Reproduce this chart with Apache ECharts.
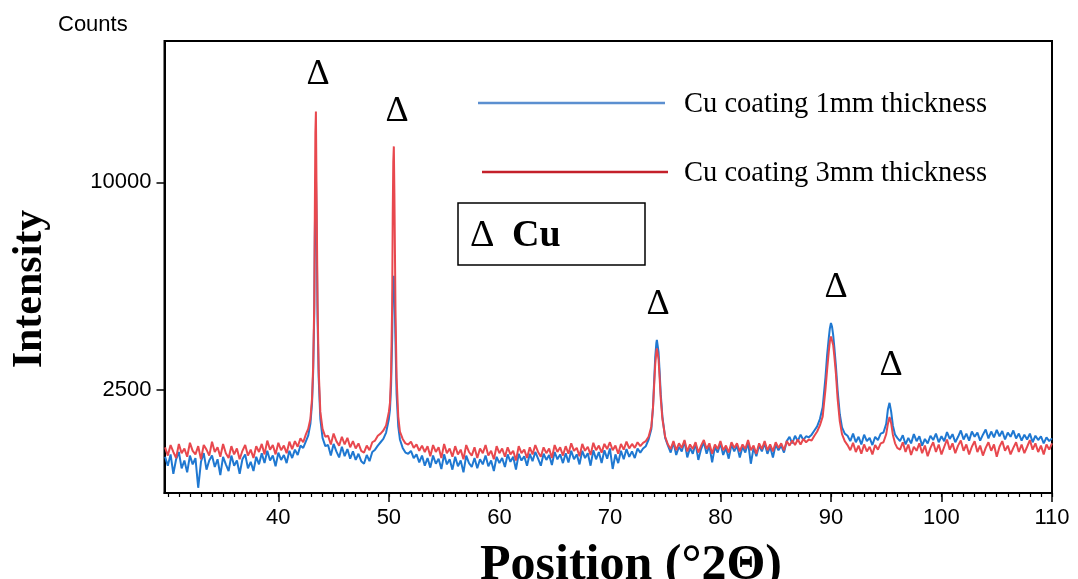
<!DOCTYPE html>
<html>
<head>
<meta charset="utf-8">
<script src="https://cdn.jsdelivr.net/npm/echarts@6/dist/echarts.min.js"></script>
<style>html,body{margin:0;padding:0;background:#fff}#c{width:1078px;height:579px}</style>
</head>
<body>
<div id="c"></div>
<script>
// 2θ positions (degrees) shared by both patterns
const twoTheta = [
 29.75,30,30.25,30.5,30.75,31,31.25,31.5,31.75,32,32.25,32.5,32.75,33,33.25,33.5,33.75,34,34.25,34.5,34.75,35,35.25,35.5,35.75,36,36.25,36.5,36.75,37,37.25,37.5,37.75,38,38.25,38.5,38.75,39,39.25,39.5,39.75,40,40.25,40.5,40.75,41,41.25,41.5,41.75,42,42.25,
 42.5,42.7,42.9,43.05,43.15,43.25,43.3,43.35,43.4,43.45,43.55,43.65,43.8,44,44.25,
 44.5,44.75,45,45.25,45.5,45.75,46,46.25,46.5,46.75,47,47.25,47.5,47.75,48,48.25,48.5,48.75,49,49.25,49.5,49.75,50,
 50.1,50.2,50.3,50.35,50.4,50.45,50.5,50.6,50.7,50.85,51,
 51.25,51.5,51.75,52,52.25,52.5,52.75,53,53.25,53.5,53.75,54,54.25,54.5,54.75,55,55.25,55.5,55.75,56,56.25,56.5,56.75,57,57.25,57.5,57.75,58,58.25,58.5,58.75,59,59.25,59.5,59.75,60,60.25,60.5,60.75,61,61.25,61.5,61.75,62,62.25,62.5,62.75,63,63.25,63.5,63.75,64,64.25,64.5,64.75,65,65.25,65.5,65.75,66,66.25,66.5,66.75,67,67.25,67.5,67.75,68,68.25,68.5,68.75,69,69.25,69.5,69.75,70,70.25,70.5,70.75,71,71.25,71.5,71.75,72,72.25,72.5,72.75,73,73.25,
 73.5,73.75,73.9,74,74.1,74.2,74.25,74.3,74.4,74.5,74.6,74.75,75,
 75.25,75.5,75.75,76,76.25,76.5,76.75,77,77.25,77.5,77.75,78,78.25,78.5,78.75,79,79.25,79.5,79.75,80,80.25,80.5,80.75,81,81.25,81.5,81.75,82,82.25,82.5,82.75,83,83.25,83.5,83.75,84,84.25,84.5,84.75,85,85.25,85.5,85.75,86,86.25,86.5,86.75,87,87.25,87.5,87.75,88,88.25,88.5,88.75,89,
 89.25,89.5,89.65,89.8,89.9,90,90.05,90.1,90.2,90.3,90.45,90.6,90.8,91,
 91.25,91.5,91.75,92,92.25,92.5,92.75,93,93.25,93.5,93.75,94,94.25,94.5,94.75,
 95,95.15,95.3,95.45,95.6,95.8,96,
 96.25,96.5,96.75,97,97.25,97.5,97.75,98,98.25,98.5,98.75,99,99.25,99.5,99.75,100,100.25,100.5,100.75,101,101.25,101.5,101.75,102,102.25,102.5,102.75,103,103.25,103.5,103.75,104,104.25,104.5,104.75,105,105.25,105.5,105.75,106,106.25,106.5,106.75,107,107.25,107.5,107.75,108,108.25,108.5,108.75,109,109.25,109.5,109.75,110
];

// Counts, Cu coating 1mm thickness (blue)
const counts1mm = [
 1150,1010,1190,890,1110,1230,970,1090,910,1170,1030,1130,700,1070,1210,950,1090,1170,990,1110,870,1150,1030,930,1170,1010,1090,890,1110,1190,970,1070,930,1150,1030,1210,1050,1250,1090,1170,1000,1220,1100,1180,1050,1250,1130,1270,1180,1340,1300,
 1420,1520,1750,2200,2950,4700,7500,9800,10400,8500,4500,2800,1850,1480,1330,
 1350,1170,1370,1240,1140,1320,1160,1280,1120,1240,1100,1200,1080,1040,1180,1080,1230,1270,1340,1400,1460,1580,1850,
 2050,2600,3900,5200,5900,6000,5600,3800,2400,1700,1450,
 1300,1220,1200,1250,1130,1190,1060,1170,1010,1130,980,1170,1040,1120,960,1190,1030,1110,950,1150,1000,1090,910,1170,1050,990,1130,970,1110,1030,1170,1000,1090,930,1150,1050,1130,990,1190,1070,1150,950,1200,1090,1160,1010,1200,1080,1230,1120,1010,1200,1100,1180,1020,1230,1110,1190,1050,1210,1060,1250,1110,1190,1030,1250,1130,1210,1010,1260,1110,1230,1050,1260,1120,1290,960,1190,1050,1250,1110,1280,1150,1240,1130,1290,1220,1290,1330,
 1450,1650,2100,2700,3350,3750,3850,3820,3500,2950,2400,1900,1480,
 1340,1220,1400,1180,1320,1240,1420,1140,1300,1200,1380,1100,1280,1400,1200,1340,1060,1320,1220,1380,1180,1300,1120,1360,1240,1340,1140,1320,1220,1400,1040,1300,1160,1340,1240,1380,1200,1320,1140,1360,1260,1340,1220,1420,1500,1380,1520,1420,1540,1440,1510,1490,1540,1620,1700,1850,
 2100,2800,3400,3900,4200,4370,4350,4250,4000,3650,3100,2500,1950,1680,
 1560,1520,1420,1560,1400,1500,1360,1540,1420,1480,1350,1500,1440,1560,1580,
 1750,2050,2200,2000,1720,1540,1480,
 1420,1530,1360,1480,1380,1550,1420,1510,1340,1460,1380,1520,1440,1560,1400,1510,1420,1590,1460,1550,1400,1500,1620,1450,1560,1430,1600,1500,1580,1430,1540,1640,1470,1600,1490,1630,1510,1610,1450,1580,1500,1620,1470,1560,1430,1540,1450,1560,1400,1520,1440,1510,1380,1490,1420,1470
];

// Counts, Cu coating 3mm thickness (red)
const counts3mm = [
 1310,1170,1350,1230,1130,1370,1210,1290,1150,1390,1250,1190,1330,1110,1350,1270,1170,1410,1230,1310,1150,1370,1210,1130,1330,1190,1290,1110,1250,1350,1170,1270,1130,1330,1230,1370,1190,1430,1270,1350,1190,1390,1260,1340,1210,1410,1280,1420,1320,1470,1400,
 1550,1650,1850,2300,3100,5000,8500,12500,13700,10000,5000,3000,2000,1650,1500,
 1520,1360,1560,1420,1340,1500,1360,1480,1310,1420,1290,1380,1250,1220,1340,1260,1400,1430,1520,1560,1620,1720,2000,
 2200,2900,5000,8500,11000,11800,9500,4800,2800,1900,1600,
 1460,1380,1360,1410,1300,1360,1250,1340,1230,1330,1160,1350,1230,1310,1130,1370,1210,1290,1150,1330,1190,1270,1110,1350,1230,1170,1310,1130,1290,1210,1350,1170,1250,1110,1330,1210,1290,1150,1310,1190,1250,1090,1330,1210,1270,1130,1310,1190,1350,1230,1150,1310,1210,1290,1130,1350,1230,1310,1170,1330,1200,1380,1250,1300,1160,1370,1250,1320,1180,1390,1260,1340,1220,1370,1280,1400,1260,1340,1200,1370,1270,1410,1290,1370,1300,1400,1330,1390,1420,
 1500,1700,2100,2600,3150,3500,3600,3580,3300,2800,2300,1850,1500,
 1360,1280,1420,1260,1380,1300,1440,1240,1360,1280,1400,1220,1340,1440,1280,1380,1200,1360,1280,1420,1260,1340,1220,1400,1300,1380,1240,1360,1280,1440,1260,1340,1200,1380,1280,1420,1260,1360,1240,1400,1300,1380,1260,1420,1340,1430,1350,1450,1360,1460,1400,1450,1430,1520,1600,1720,
 1900,2500,3000,3500,3800,3950,3950,3900,3700,3400,2900,2300,1800,1550,
 1420,1350,1260,1390,1230,1340,1200,1360,1240,1320,1190,1350,1270,1380,1400,
 1550,1750,1890,1760,1540,1380,1300,
 1270,1400,1230,1360,1180,1320,1250,1380,1210,1340,1160,1300,1400,1230,1360,1190,1320,1450,1270,1380,1210,1340,1430,1250,1360,1190,1320,1420,1230,1340,1170,1300,1400,1250,1360,1150,1320,1420,1250,1340,1190,1300,1400,1230,1360,1210,1320,1440,1270,1380,1230,1340,1190,1360,1270,1380
];

const xTickLabels = [40, 50, 60, 70, 80, 90, 100, 110];
const yTickLabels = [2500, 10000];
const seriesNames = ['Cu coating 1mm thickness', 'Cu coating 3mm thickness'];

if (counts1mm.length !== twoTheta.length || counts3mm.length !== twoTheta.length) {
  console.error('length mismatch', twoTheta.length, counts1mm.length, counts3mm.length);
}

// square-root intensity scale (as in the XRD software)
const toPairs = arr => twoTheta.map((t, i) => [t, Math.sqrt(arr[i])]);
const minorTicks = [];
for (let v = 30; v <= 110; v++) minorTicks.push(v);

const SERIF = '"Liberation Serif","Times New Roman",serif';
const SANS = '"Liberation Sans",Arial,sans-serif';

const chart = echarts.init(document.getElementById('c'), null, {renderer: 'canvas'});
chart.setOption({
  animation: false,
  backgroundColor: '#fff',
  grid: {left: 164.5, right: 26, top: 41, bottom: 86, show: true, borderColor: '#000', borderWidth: 2, backgroundColor: 'transparent'},
  xAxis: [{
    type: 'value', min: 29.7, max: 110,
    axisLine: {show: true, lineStyle: {color: '#000', width: 2}},
    axisTick: {show: true, inside: false, length: 9, customValues: xTickLabels, lineStyle: {color: '#000', width: 1.5}},
    axisLabel: {customValues: xTickLabels, color: '#000', fontFamily: SANS, fontSize: 22, margin: 14},
    splitLine: {show: false}
  }, {
    type: 'value', min: 29.7, max: 110, position: 'bottom',
    axisLine: {show: false},
    axisTick: {show: true, inside: false, length: 4, customValues: minorTicks, lineStyle: {color: '#000', width: 1.2}},
    axisLabel: {show: false},
    splitLine: {show: false}
  }],
  yAxis: {
    type: 'value', min: 25.2, max: 134,
    axisLine: {show: true, lineStyle: {color: '#000', width: 2}},
    axisTick: {show: true, inside: false, length: 8, customValues: yTickLabels.map(Math.sqrt), lineStyle: {color: '#000', width: 1.5}},
    axisLabel: {customValues: yTickLabels.map(Math.sqrt), formatter: v => String(Math.round(v * v)), color: '#000', fontFamily: SANS, fontSize: 22, margin: 13},
    splitLine: {show: false}
  },
  series: [{
    name: seriesNames[0], type: 'line', xAxisIndex: 0, data: toPairs(counts1mm),
    showSymbol: false, symbol: 'none', lineStyle: {color: '#1f78d1', width: 2}, z: 2
  }, {
    name: seriesNames[1], type: 'line', xAxisIndex: 0, data: toPairs(counts3mm),
    showSymbol: false, symbol: 'none', lineStyle: {color: '#e8484e', width: 2}, z: 3
  }],
  graphic: [
    {type: 'text', x: 58, y: 25, style: {text: 'Counts', font: '22px ' + SANS, fill: '#000', verticalAlign: 'middle'}},
    {type: 'text', x: 30, y: 289, rotation: Math.PI / 2, style: {text: 'Intensity', font: 'bold 42px ' + SERIF, fill: '#000', align: 'center', verticalAlign: 'middle'}},
    {type: 'text', x: 631, y: 566, style: {text: 'Position (°2Θ)', font: 'bold 50px ' + SERIF, fill: '#000', align: 'center', verticalAlign: 'middle'}},
    {type: 'line', shape: {x1: 478, y1: 103, x2: 665, y2: 103}, style: {stroke: '#5b8fd0', lineWidth: 2.5}},
    {type: 'text', x: 684, y: 105, style: {text: seriesNames[0], font: '28.5px ' + SERIF, fill: '#000', verticalAlign: 'middle'}},
    {type: 'line', shape: {x1: 482, y1: 172, x2: 668, y2: 172}, style: {stroke: '#c4202a', lineWidth: 2.5}},
    {type: 'text', x: 684, y: 174, style: {text: seriesNames[1], font: '28.5px ' + SERIF, fill: '#000', verticalAlign: 'middle'}},
    {type: 'rect', shape: {x: 458, y: 203, width: 187, height: 62}, style: {fill: '#fff', stroke: '#000', lineWidth: 1.5}},
    {type: 'text', x: 470, y: 236, style: {text: 'Δ', font: '38px ' + SERIF, fill: '#000', verticalAlign: 'middle'}},
    {type: 'text', x: 512, y: 236, style: {text: 'Cu', font: 'bold 38px ' + SERIF, fill: '#000', verticalAlign: 'middle'}},
    {type: 'text', x: 318, y: 75, style: {text: 'Δ', font: '36px ' + SERIF, fill: '#000', align: 'center', verticalAlign: 'middle'}},
    {type: 'text', x: 397, y: 112, style: {text: 'Δ', font: '36px ' + SERIF, fill: '#000', align: 'center', verticalAlign: 'middle'}},
    {type: 'text', x: 658, y: 305, style: {text: 'Δ', font: '36px ' + SERIF, fill: '#000', align: 'center', verticalAlign: 'middle'}},
    {type: 'text', x: 836, y: 288, style: {text: 'Δ', font: '36px ' + SERIF, fill: '#000', align: 'center', verticalAlign: 'middle'}},
    {type: 'text', x: 891, y: 366, style: {text: 'Δ', font: '36px ' + SERIF, fill: '#000', align: 'center', verticalAlign: 'middle'}}
  ]
});
</script>
</body>
</html>
